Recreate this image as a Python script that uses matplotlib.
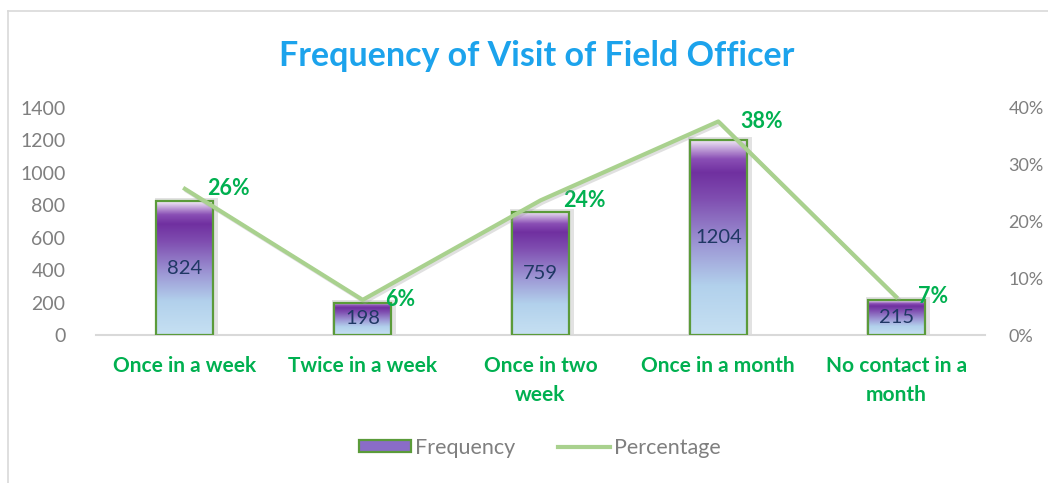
import numpy as np
import matplotlib.pyplot as plt
import matplotlib.patheffects as pe
from matplotlib.colors import LinearSegmentedColormap
from matplotlib.lines import Line2D
from matplotlib.patches import Rectangle
from matplotlib.ticker import FuncFormatter

plt.rcParams['font.family'] = ['Lato', 'DejaVu Sans']

# data
categories = ['Once in a week', 'Twice in a week', 'Once in two\nweek',
              'Once in a month', 'No contact in a\nmonth']
frequency = [824, 198, 759, 1204, 215]
percentage = [25.75, 6.19, 23.72, 37.63, 6.72]
pct_labels = ['26%', '6%', '24%', '38%', '7%']

GREEN = '#00B050'
LINE_GREEN = '#A9D18E'
EDGE_GREEN = '#5B9B3A'
GRAY_TXT = '#7F7F7F'

# gradient used inside the bars (top -> bottom)
grad = LinearSegmentedColormap.from_list('barfill', [
    (0.00, '#F4EEF8'),
    (0.10, '#8A4FB5'),
    (0.17, '#7030A0'),
    (0.30, '#7F4DB0'),
    (0.55, '#9E9AD6'),
    (0.75, '#B2D1EC'),
    (1.00, '#C6E0F2'),
])

fig = plt.figure(figsize=(10.48, 4.83), dpi=100)
ax = fig.add_axes([96 / 1048, 148 / 483, 889 / 1048, 227 / 483])
ax2 = ax.twinx()

x = np.arange(len(categories))
w = 0.32

# soft shadow behind the bars
ax.bar(x + 0.006, frequency, w, color='none', edgecolor='#E2E2E2', linewidth=5,
       zorder=1)
bars = ax.bar(x, frequency, w, color='none', edgecolor=EDGE_GREEN, linewidth=1.6,
              zorder=3)

g = np.linspace(0, 1, 256).reshape(-1, 1)
for b in bars:
    x0, y0 = b.get_x(), b.get_y()
    bw, bh = b.get_width(), b.get_height()
    im = ax.imshow(g, cmap=grad, aspect='auto', extent=(x0, x0 + bw, y0, y0 + bh),
                   origin='upper', zorder=2)
    clip = Rectangle((x0, y0), bw, bh, transform=ax.transData, facecolor='none')
    im.set_clip_path(clip)

for xi, v in zip(x, frequency):
    ax.text(xi, v / 2, str(v), ha='center', va='center', fontsize=14.5,
            color='#1F3864', zorder=4)

ax.set_xlim(-0.5, 4.5)
ax.set_ylim(0, 1400)
ax.set_yticks(range(0, 1401, 200))
ax.set_xticks(x)
ax.set_xticklabels(categories, fontsize=15, fontweight='bold', color=GREEN,
                   linespacing=1.55)
ax.tick_params(axis='x', length=0, pad=15)
ax.tick_params(axis='y', length=0, pad=22, labelsize=14, labelcolor=GRAY_TXT)
for s in ['top', 'right', 'left']:
    ax.spines[s].set_visible(False)
ax.spines['bottom'].set_color('#D9D9D9')
ax.spines['bottom'].set_linewidth(1.5)

ax2.plot(x, percentage, color=LINE_GREEN, linewidth=3, zorder=5,
         path_effects=[pe.SimpleLineShadow(offset=(1.5, -1.5), shadow_color='#999999',
                                           alpha=0.3), pe.Normal()])
for xi, p, lab in zip(x, percentage, pct_labels):
    ax2.annotate(lab, (xi, p), xytext=(16, 0), textcoords='offset points',
                 ha='left', va='center', fontsize=15.5, fontweight='bold', color=GREEN)
ax2.set_ylim(0, 40)
ax2.set_yticks(range(0, 41, 10))
ax2.yaxis.set_major_formatter(FuncFormatter(lambda v, _: f'{v:.0f}%'))
ax2.tick_params(axis='y', length=0, pad=17, labelsize=13, labelcolor=GRAY_TXT)
for s in ax2.spines.values():
    s.set_visible(False)
ax.set_zorder(ax2.get_zorder() - 1)
ax.patch.set_visible(False)

fig.text(537 / 1048, 1 - 56 / 483, 'Frequency of Visit of Field Officer',
         ha='center', va='center', fontsize=24.5, fontweight='bold', color='#1CA3EC')

# legend
h_bar = Rectangle((0, 0), 1, 1, facecolor='#8A6CC8', edgecolor=EDGE_GREEN, linewidth=1.6)
h_line = Line2D([], [], color=LINE_GREEN, linewidth=3)
fig.legend([h_bar, h_line], ['Frequency', 'Percentage'], loc='center',
           bbox_to_anchor=(540 / 1048, 1 - 448 / 483), ncol=2, frameon=False,
           fontsize=15.5, labelcolor=GRAY_TXT, handlelength=2.4, handleheight=0.5,
           columnspacing=2.0, handletextpad=0.2)

# chart border (left and top edges visible in the crop)
fig.add_artist(Line2D([8 / 1048, 8 / 1048], [0, 1 - 11 / 483], transform=fig.transFigure,
                      color='#D9D9D9', linewidth=1.2))
fig.add_artist(Line2D([8 / 1048, 1], [1 - 11 / 483, 1 - 11 / 483], transform=fig.transFigure,
                      color='#D9D9D9', linewidth=1.2))

fig.savefig('out.png', dpi=100)
